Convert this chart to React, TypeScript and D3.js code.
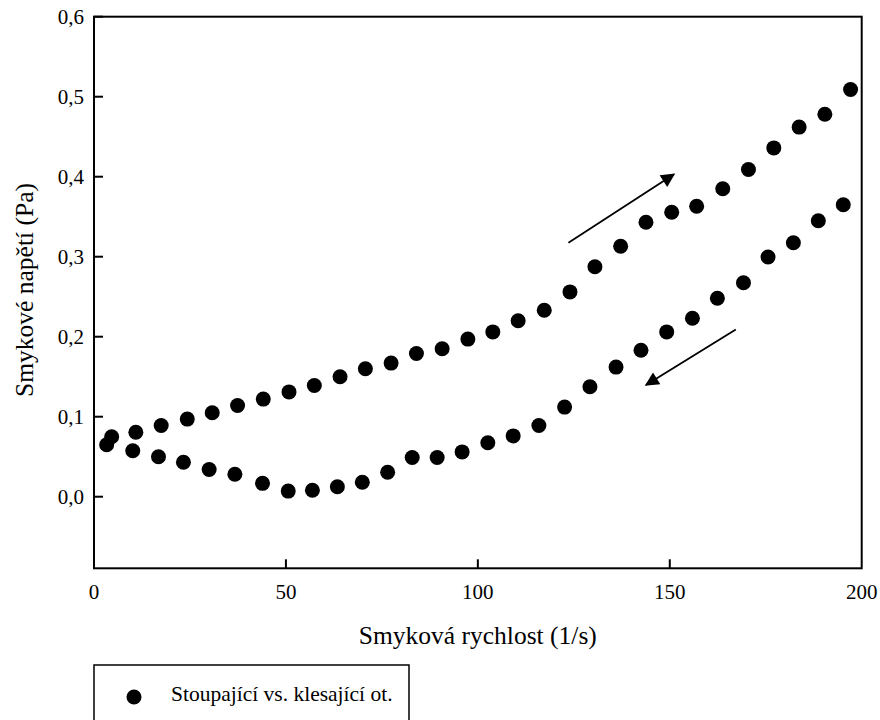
import React, { useEffect, useRef } from 'react';
import * as d3 from 'd3';

// shear rate (1/s) and shear stress (Pa), ramp up
const upRate = [4.6, 10.9, 17.5, 24.3, 30.8, 37.4, 44.1, 50.8, 57.4, 64.1, 70.7, 77.4, 84.0, 90.7, 97.4, 103.9, 110.5, 117.3, 124.0, 130.5, 137.2, 143.8, 150.5, 157.0, 163.8, 170.5, 177.1, 183.7, 190.4, 197.1];
const upStress = [0.075, 0.0805, 0.089, 0.097, 0.105, 0.114, 0.122, 0.131, 0.139, 0.15, 0.16, 0.167, 0.179, 0.185, 0.197, 0.206, 0.22, 0.233, 0.256, 0.2875, 0.313, 0.343, 0.3555, 0.363, 0.385, 0.409, 0.436, 0.462, 0.478, 0.509];

// ramp down
const downRate = [195.2, 188.7, 182.2, 175.6, 169.2, 162.4, 155.9, 149.2, 142.5, 136.0, 129.2, 122.6, 115.9, 109.2, 102.6, 95.9, 89.4, 82.9, 76.5, 69.9, 63.4, 56.9, 50.6, 43.9, 36.7, 30.0, 23.3, 16.8, 10.1, 3.3];
const downStress = [0.365, 0.345, 0.3175, 0.2996, 0.2675, 0.248, 0.223, 0.206, 0.183, 0.162, 0.1375, 0.112, 0.089, 0.076, 0.0675, 0.056, 0.049, 0.049, 0.0305, 0.018, 0.0125, 0.008, 0.007, 0.0167, 0.028, 0.034, 0.043, 0.05, 0.0575, 0.065];

const xTicks = [0, 50, 100, 150, 200];
const yTicks = [0, 0.1, 0.2, 0.3, 0.4, 0.5, 0.6];

// direction arrows, [x0, y0, x1, y1] in data units
const arrows = [
  [123.6, 0.3175, 151.1, 0.403],
  [167.2, 0.209, 143.8, 0.1396],
];

const seriesName = 'Stoupající vs. klesající ot.';
const xTitle = 'Smyková rychlost (1/s)';
const yTitle = 'Smykové napětí (Pa)';

const FONT = "'Liberation Serif', 'DejaVu Serif', serif";

export default function App() {
  const svgRef = useRef<SVGSVGElement>(null);

  useEffect(() => {
    const svg = d3.select(svgRef.current);
    svg.selectAll('*').remove();

    const left = 94;
    const right = 861.7;
    const top = 16.7;
    const bottom = 568.3;

    const x = d3.scaleLinear().domain([0, 200]).range([left, right]);
    const y = d3.scaleLinear().domain([0, 0.6]).range([496.7, top]);
    const fmt = (d: number) => d3.format('.1f')(d).replace('.', ',');

    // frame
    svg
      .append('rect')
      .attr('x', left)
      .attr('y', top)
      .attr('width', right - left)
      .attr('height', bottom - top)
      .attr('fill', 'none')
      .attr('stroke', '#000')
      .attr('stroke-width', 2);

    // y ticks (inside)
    yTicks.forEach((t) => {
      svg
        .append('line')
        .attr('x1', left)
        .attr('x2', left + 9)
        .attr('y1', y(t))
        .attr('y2', y(t))
        .attr('stroke', '#000')
        .attr('stroke-width', 2);
      svg
        .append('text')
        .attr('x', left - 10)
        .attr('y', y(t))
        .attr('dy', '0.35em')
        .attr('text-anchor', 'end')
        .style('font-family', FONT)
        .style('font-size', '21px')
        .text(fmt(t));
    });

    // x ticks (inside)
    xTicks.forEach((t) => {
      if (t > 0 && t < 200) {
        svg
          .append('line')
          .attr('x1', x(t))
          .attr('x2', x(t))
          .attr('y1', bottom)
          .attr('y2', bottom - 9)
          .attr('stroke', '#000')
          .attr('stroke-width', 2);
      }
      svg
        .append('text')
        .attr('x', x(t))
        .attr('y', 592)
        .attr('dy', '0.35em')
        .attr('text-anchor', 'middle')
        .style('font-family', FONT)
        .style('font-size', '21px')
        .text(t);
    });

    // axis titles
    svg
      .append('text')
      .attr('x', (left + right) / 2)
      .attr('y', 644)
      .attr('text-anchor', 'middle')
      .style('font-family', FONT)
      .style('font-size', '25.5px')
      .text(xTitle);

    svg
      .append('text')
      .attr('transform', 'translate(33,290) rotate(-90)')
      .attr('text-anchor', 'middle')
      .style('font-family', FONT)
      .style('font-size', '25.5px')
      .text(yTitle);

    // arrows
    const defs = svg.append('defs');
    defs
      .append('marker')
      .attr('id', 'head')
      .attr('viewBox', '0 0 10 10')
      .attr('refX', 9)
      .attr('refY', 5)
      .attr('markerWidth', 18)
      .attr('markerHeight', 14)
      .attr('markerUnits', 'userSpaceOnUse')
      .attr('orient', 'auto')
      .append('path')
      .attr('d', 'M0,0 L10,5 L0,10 Z')
      .attr('fill', '#000');

    arrows.forEach(([x0, y0, x1, y1]) => {
      svg
        .append('line')
        .attr('x1', x(x0))
        .attr('y1', y(y0))
        .attr('x2', x(x1))
        .attr('y2', y(y1))
        .attr('stroke', '#000')
        .attr('stroke-width', 1.8)
        .attr('marker-end', 'url(#head)');
    });

    // points
    const pts = [
      ...upRate.map((r, i) => [r, upStress[i]]),
      ...downRate.map((r, i) => [r, downStress[i]]),
    ];
    svg
      .append('g')
      .selectAll('circle')
      .data(pts)
      .join('circle')
      .attr('cx', (d) => x(d[0]))
      .attr('cy', (d) => y(d[1]))
      .attr('r', 7.5)
      .attr('fill', '#000');

    // legend
    const lg = svg.append('g');
    lg.append('rect')
      .attr('x', 94)
      .attr('y', 665)
      .attr('width', 315)
      .attr('height', 70)
      .attr('fill', '#fff')
      .attr('stroke', '#000')
      .attr('stroke-width', 1.5);
    lg.append('circle').attr('cx', 134).attr('cy', 697).attr('r', 7.5).attr('fill', '#000');
    lg.append('text')
      .attr('x', 171)
      .attr('y', 701)
      .style('font-family', FONT)
      .style('font-size', '21.5px')
      .text(seriesName);
  }, []);

  return (
    <svg
      ref={svgRef}
      width={880}
      height={720}
      style={{ position: 'absolute', left: 0, top: 0, background: '#fff' }}
    />
  );
}
